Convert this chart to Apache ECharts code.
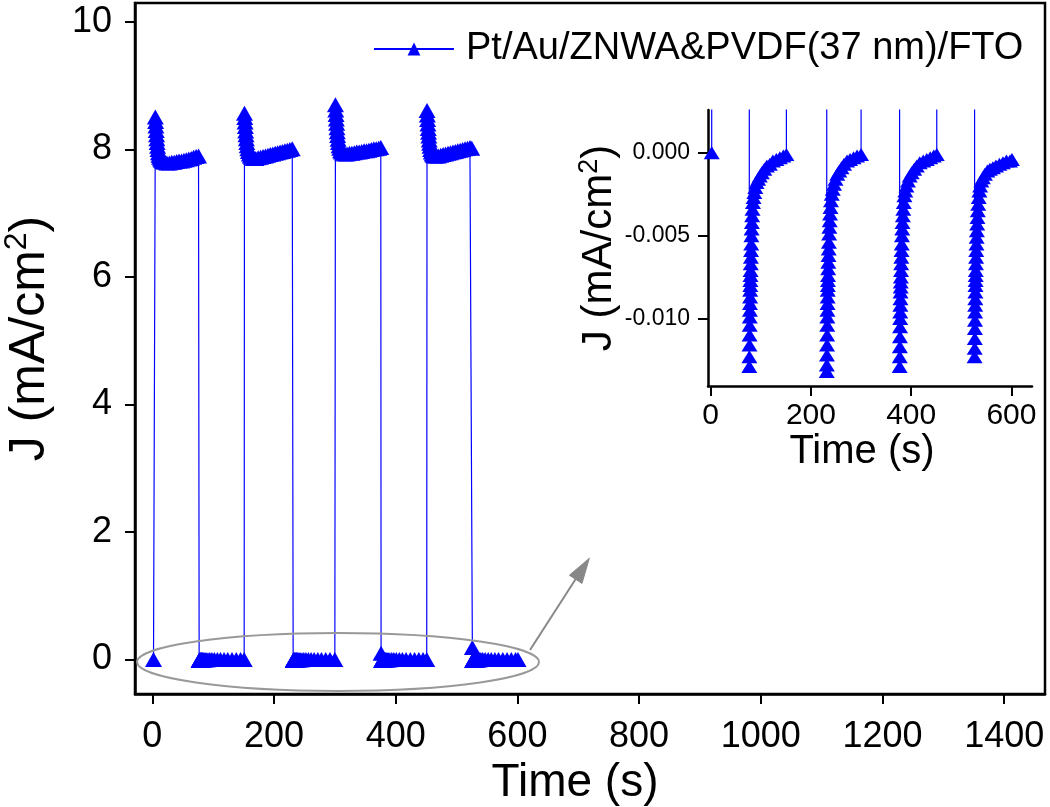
<!DOCTYPE html>
<html>
<head>
<meta charset="utf-8">
<script src="https://cdn.jsdelivr.net/npm/echarts@6/dist/echarts.min.js"></script>
<style>html,body{margin:0;padding:0;background:#fff}#c{width:1050px;height:807px}</style>
</head>
<body>
<div id="c"></div>
<script>
// ---- data: [time (s), J (mA/cm^2)] ----
const seriesName = 'Pt/Au/ZNWA&PVDF(37 nm)/FTO';
const mainXTicks = [0, 200, 400, 600, 800, 1000, 1200, 1400];
const mainYTicks = [0, 2, 4, 6, 8, 10];
const insetXTicks = [0, 200, 400, 600];
const insetYTicks = [0, -0.005, -0.010];

const off0 = [[2, 0.0000]];
const on1 = [[5,8.51],[5.5,8.44],[6,8.37],[6.5,8.30],[7,8.23],[7.5,8.17],[8,8.11],[8.7,8.05],[9.4,8.00],[10.2,7.95],[11,7.91],[12,7.88],[13.5,7.85],[15,7.83],[17,7.81],[20,7.80],[24,7.79],[28,7.79],[32,7.80],[36,7.80],[40,7.81],[44,7.82],[48,7.82],[52,7.83],[56,7.84],[60,7.85],[64,7.86],[68,7.88],[72,7.89],[76,7.90]];
const off1 = [[77.0,-0.0129],[77.2,-0.0123],[77.4,-0.0116],[77.6,-0.0110],[77.8,-0.0104],[78.0,-0.0099],[78.2,-0.0095],[78.4,-0.0091],[78.6,-0.0087],[78.8,-0.0083],[79.0,-0.0080],[79.2,-0.0077],[79.4,-0.0074],[79.6,-0.0071],[79.9,-0.0067],[80.2,-0.0063],[80.5,-0.0059],[80.8,-0.0055],[81.2,-0.0050],[81.6,-0.0046],[82.1,-0.0042],[82.7,-0.0038],[83.4,-0.0034],[84.3,-0.0030],[85.5,-0.0027],[87,-0.0024],[89,-0.0021],[91.5,-0.0018],[94.5,-0.0016],[98,-0.0014],[102,-0.0012],[107,-0.0010],[112,-0.0008],[118,-0.0007],[124,-0.0005],[131,-0.0004],[138,-0.0003],[145,-0.0002],[151,-0.0001]];
const on2 = [[151.5,8.57],[152,8.50],[152.5,8.43],[153,8.36],[153.5,8.29],[154,8.23],[154.6,8.17],[155.3,8.11],[156,8.06],[157,8.01],[158,7.97],[159.5,7.93],[161,7.90],[163,7.88],[166,7.86],[170,7.86],[174,7.87],[178,7.88],[182,7.89],[186,7.90],[190,7.91],[194,7.92],[198,7.93],[202,7.94],[206,7.95],[210,7.96],[214,7.97],[218,7.98],[222,7.99],[226,8.00],[230,8.01]];
const off2 = [[231.5,-0.0132],[231.7,-0.0128],[231.9,-0.0122],[232.1,-0.0116],[232.3,-0.0110],[232.5,-0.0104],[232.7,-0.0099],[232.9,-0.0095],[233.1,-0.0091],[233.3,-0.0087],[233.5,-0.0083],[233.7,-0.0080],[233.9,-0.0077],[234.1,-0.0074],[234.4,-0.0070],[234.7,-0.0066],[235,-0.0062],[235.4,-0.0058],[235.8,-0.0054],[236.3,-0.0049],[236.8,-0.0045],[237.4,-0.0041],[238.1,-0.0037],[239,-0.0033],[240,-0.0029],[241.5,-0.0025],[243.5,-0.0022],[246,-0.0019],[249,-0.0016],[252.5,-0.0013],[256.5,-0.0011],[261,-0.0009],[266,-0.0007],[272,-0.0005],[278,-0.0004],[285,-0.0003],[292,-0.0002],[300,-0.0001]];
const on3 = [[301,8.70],[301.5,8.62],[302,8.55],[302.5,8.48],[303,8.41],[303.5,8.34],[304,8.28],[304.6,8.22],[305.3,8.16],[306,8.11],[307,8.06],[308,8.02],[309.5,7.98],[311,7.96],[313,7.94],[316,7.93],[320,7.93],[324,7.94],[328,7.94],[332,7.95],[336,7.96],[340,7.96],[344,7.97],[348,7.98],[352,7.98],[356,7.99],[360,8.00],[364,8.01],[368,8.01],[372,8.02],[375.5,8.03]];
const off3 = [[376,0.10],[377,-0.0129],[377.2,-0.0123],[377.4,-0.0117],[377.6,-0.0111],[377.8,-0.0105],[378,-0.0100],[378.2,-0.0096],[378.4,-0.0092],[378.6,-0.0088],[378.8,-0.0084],[379,-0.0081],[379.2,-0.0078],[379.4,-0.0075],[379.7,-0.0071],[380,-0.0067],[380.3,-0.0063],[380.7,-0.0059],[381.1,-0.0055],[381.6,-0.0050],[382.1,-0.0046],[382.7,-0.0042],[383.4,-0.0038],[384.2,-0.0034],[385.2,-0.0030],[386.5,-0.0026],[388.2,-0.0023],[390.5,-0.0020],[393.5,-0.0017],[397,-0.0014],[401,-0.0012],[406,-0.0010],[411,-0.0008],[417,-0.0006],[424,-0.0005],[431,-0.0004],[438,-0.0003],[445,-0.0002],[451,-0.0001]];
const on4 = [[451.5,8.61],[452,8.54],[452.5,8.47],[453,8.40],[453.5,8.33],[454,8.27],[454.5,8.21],[455.1,8.15],[455.8,8.10],[456.5,8.05],[457.5,8.00],[458.5,7.96],[460,7.93],[461.5,7.91],[463.5,7.90],[466,7.90],[470,7.90],[474,7.91],[478,7.92],[482,7.93],[486,7.94],[490,7.95],[494,7.96],[498,7.97],[502,7.98],[506,7.99],[510,8.00],[514,8.01],[518,8.02],[522,8.03],[525,8.02]];
const off4 = [[526,0.19],[526.5,-0.0123],[526.7,-0.0118],[526.9,-0.0112],[527.1,-0.0106],[527.3,-0.0101],[527.5,-0.0096],[527.7,-0.0092],[527.9,-0.0088],[528.1,-0.0084],[528.3,-0.0080],[528.5,-0.0077],[528.7,-0.0074],[528.9,-0.0071],[529.2,-0.0067],[529.5,-0.0063],[529.8,-0.0059],[530.2,-0.0055],[530.6,-0.0051],[531.1,-0.0047],[531.6,-0.0043],[532.2,-0.0039],[532.9,-0.0035],[533.7,-0.0031],[534.7,-0.0027],[536,-0.0023],[537.5,-0.0020],[540,-0.0017],[543,-0.0015],[547,-0.0013],[552,-0.0011],[557,-0.0010],[563,-0.0009],[569,-0.0008],[576,-0.0007],[583,-0.0006],[590,-0.0005],[597,-0.0005],[601,-0.0004]];

const allData = [].concat(off0, on1, off1, on2, off2, on3, off3, on4, off4);

const FONT = "'Liberation Sans', Arial, sans-serif";
const BLUE = '#0000ff';

const chart = echarts.init(document.getElementById('c'), null, {renderer: 'canvas'});

const tickLine = {show: true, inside: false, length: 10, lineStyle: {color: '#000', width: 2}};
const axisLine = {show: true, onZero: false, lineStyle: {color: '#000', width: 2.5}};

chart.setOption({
  animation: false,
  backgroundColor: '#fff',
  textStyle: {fontFamily: FONT},
  legend: {
    data: [seriesName],
    left: 368, top: 25,
    itemWidth: 80, itemHeight: 16,
    textStyle: {fontSize: 38, color: '#000', fontFamily: FONT, padding: [0, 0, 0, 7]}
  },
  grid: [
    {left: 135, right: 5, top: 3, bottom: 113, show: true, borderColor: '#000', borderWidth: 2.5,
      containLabel: false, outerBoundsMode: 'none'},
    {left: 708, right: 18, top: 110, bottom: 421, show: false,
      containLabel: false, outerBoundsMode: 'none'}
  ],
  xAxis: [
    {
      type: 'value', gridIndex: 0, min: -28.4, max: 1467,
      axisLine: axisLine, splitLine: {show: false},
      axisTick: Object.assign({customValues: mainXTicks}, tickLine),
      axisLabel: {customValues: mainXTicks, fontSize: 36, color: '#000', margin: 25, fontFamily: FONT,
        formatter: v => String(v)},
      name: 'Time (s)', nameLocation: 'middle', nameGap: 58,
      nameTextStyle: {fontSize: 46, color: '#000', fontFamily: FONT, padding: [0, 30, 0, 0]}
    },
    {
      type: 'value', gridIndex: 1, min: -5.4, max: 641,
      axisLine: axisLine, splitLine: {show: false},
      axisTick: Object.assign({customValues: insetXTicks}, tickLine),
      axisLabel: {customValues: insetXTicks, fontSize: 30, color: '#000', margin: 15, fontFamily: FONT,
        formatter: v => String(v)},
      name: 'Time (s)', nameLocation: 'middle', nameGap: 46,
      nameTextStyle: {fontSize: 40, color: '#000', fontFamily: FONT, padding: [0, 16, 0, 0]}
    }
  ],
  yAxis: [
    {
      type: 'value', gridIndex: 0, min: -0.541, max: 10.298,
      axisLine: axisLine, splitLine: {show: false},
      axisTick: Object.assign({customValues: mainYTicks}, tickLine),
      axisLabel: {customValues: mainYTicks, fontSize: 36, color: '#000', margin: 23, fontFamily: FONT,
        formatter: v => String(v)},
      name: '{a|J (mA/cm}{s|2}{a|)}', nameLocation: 'middle', nameGap: 76,
      nameTextStyle: {
        color: '#000', fontFamily: FONT, padding: [0, 0, 0, 20],
        rich: {
          a: {fontSize: 50, lineHeight: 58, fontFamily: FONT, color: '#000'},
          s: {fontSize: 32, lineHeight: 32, verticalAlign: 'top', fontFamily: FONT, color: '#000'}
        }
      }
    },
    {
      type: 'value', gridIndex: 1, min: -0.01407, max: 0.00258,
      axisLine: axisLine, splitLine: {show: false},
      axisTick: Object.assign({customValues: insetYTicks}, tickLine),
      axisLabel: {customValues: insetYTicks, fontSize: 23, color: '#000', margin: 18, fontFamily: FONT,
        formatter: v => v.toFixed(3)},
      name: '{a|J (mA/cm}{s|2}{a|)}', nameLocation: 'middle', nameGap: 80,
      nameTextStyle: {
        color: '#000', fontFamily: FONT,
        rich: {
          a: {fontSize: 42, lineHeight: 48, fontFamily: FONT, color: '#000'},
          s: {fontSize: 27, lineHeight: 27, verticalAlign: 'top', fontFamily: FONT, color: '#000'}
        }
      }
    }
  ],
  series: [
    {
      name: seriesName, type: 'line', xAxisIndex: 0, yAxisIndex: 0,
      data: allData, symbol: 'triangle', symbolSize: [17, 15], showAllSymbol: true,
      lineStyle: {color: BLUE, width: 1.2}, itemStyle: {color: BLUE},
      clip: true, z: 3
    },
    {
      name: seriesName, type: 'line', xAxisIndex: 1, yAxisIndex: 1,
      data: allData, symbol: 'triangle', symbolSize: [16, 13], showAllSymbol: true,
      lineStyle: {color: BLUE, width: 1.2}, itemStyle: {color: BLUE},
      clip: true, z: 3
    }
  ],
  graphic: [
    {type: 'ellipse', shape: {cx: 338, cy: 662, rx: 201, ry: 29}, z: 10,
      style: {fill: 'none', stroke: '#999', lineWidth: 2}},
    {type: 'line', shape: {x1: 530, y1: 650, x2: 577, y2: 577}, z: 10,
      style: {stroke: '#888', lineWidth: 2}},
    {type: 'polygon', shape: {points: [[589.3, 558.3], [582, 583.4], [569.4, 575.2]]}, z: 10,
      style: {fill: '#888', stroke: '#888', lineWidth: 1}}
  ]
});
</script>
</body>
</html>
